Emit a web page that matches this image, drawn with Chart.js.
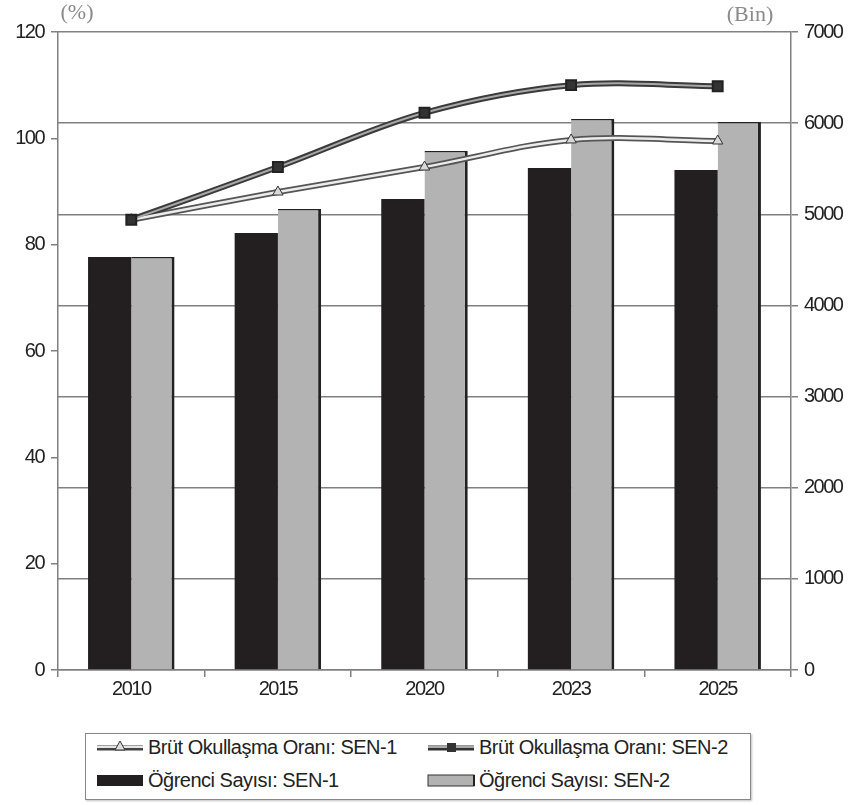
<!DOCTYPE html>
<html>
<head>
<meta charset="utf-8">
<script src="https://cdn.jsdelivr.net/npm/chart.js@4.4.1/dist/chart.umd.min.js"></script>
<style>
    body { margin: 0; background: #fff; font-family: 'Liberation Sans', Arial, sans-serif; }
    .wrap { position: relative; width: 852px; height: 805px; }
    #chart { position: absolute; left: 0; top: 0; }
    .legend {
        position: absolute; left: 85px; top: 733px; width: 666px; height: 67px;
        border: 1px solid #888; box-shadow: 1px 1px 2px rgba(0,0,0,0.25);
        box-sizing: border-box; font-size: 20px; color: #222; letter-spacing: -0.5px;
    }
    .item { position: absolute; display: flex; align-items: center; height: 26px; }
    .item svg { margin-right: 3px; }
</style>
</head>
<body>
<div class="wrap">
    <canvas id="chart" width="852" height="720"></canvas>
    <div class="legend">
        <div class="item" style="left:9px; top:0px;">
            <svg width="50" height="16"><line x1="2" y1="9" x2="48" y2="9" stroke="#444" stroke-width="5"/><line x1="2" y1="8" x2="48" y2="8" stroke="#e6e6e6" stroke-width="2"/><polygon points="25,2 30,11 20,11" fill="#ddd" stroke="#333" stroke-width="1"/></svg>
            Brüt Okullaşma Oranı: SEN-1
        </div>
        <div class="item" style="left:340px; top:0px;">
            <svg width="50" height="16"><line x1="2" y1="9" x2="48" y2="9" stroke="#333" stroke-width="5"/><line x1="2" y1="8" x2="48" y2="8" stroke="#aaa" stroke-width="2"/><rect x="21" y="4" width="9" height="9" fill="#333"/></svg>
            Brüt Okullaşma Oranı: SEN-2
        </div>
        <div class="item" style="left:9px; top:33px;">
            <svg width="50" height="16"><rect x="2" y="3" width="46" height="11" fill="#231f20"/></svg>
            Öğrenci Sayısı: SEN-1
        </div>
        <div class="item" style="left:340px; top:33px;">
            <svg width="50" height="16"><rect x="2" y="3" width="46" height="11" fill="#b2b2b2" stroke="#333" stroke-width="1"/><line x1="48" y1="3" x2="48" y2="14" stroke="#222" stroke-width="2"/></svg>
            Öğrenci Sayısı: SEN-2
        </div>
    </div>
</div>
<script>
// Data
const years = ['2010', '2015', '2020', '2023', '2025'];
const rateSen1 = [84.7, 89.9, 94.6, 99.7, 99.5];
const rateSen2 = [84.7, 94.6, 104.8, 110.0, 109.8];
const studentsSen1 = [4530, 4795, 5168, 5508, 5486];
const studentsSen2 = [4530, 5058, 5695, 6046, 6013];
const rateTicks = [0, 20, 40, 60, 80, 100, 120];
const studentTicks = [0, 1000, 2000, 3000, 4000, 5000, 6000, 7000];

const tickFont = { family: "'Liberation Sans', Arial, sans-serif", size: 20 };
const gridColor = '#808080';

// tighter tick text, the original uses a narrow face
const narrowText = {
    id: 'narrowText',
    beforeDraw(chart) {
        chart.ctx.letterSpacing = '-1.5px';
    }
};

// axis unit labels above the plot
const unitLabels = {
    id: 'unitLabels',
    afterDraw(chart) {
        const ctx = chart.ctx;
        const area = chart.chartArea;
        ctx.save();
        ctx.letterSpacing = '0px';
        ctx.fillStyle = '#8a8a8a';
        ctx.font = "22px 'Liberation Serif', 'Times New Roman', serif";
        ctx.textBaseline = 'middle';
        ctx.textAlign = 'center';
        ctx.fillText('(%)', area.left + 19, 13);
        ctx.fillText('(Bin)', area.right - 41, 15);
        ctx.restore();
    }
};

new Chart(document.getElementById('chart').getContext('2d'), {
    data: {
        labels: years,
        datasets: [
            {
                type: 'line',
                label: 'Brüt Okullaşma Oranı: SEN-2',
                data: rateSen2,
                yAxisID: 'y',
                borderColor: '#a8a8a8',
                borderWidth: 2,
                tension: 0.35,
                pointStyle: 'rect',
                pointRadius: 7,
                pointBackgroundColor: '#333',
                pointBorderColor: '#222',
                order: 0
            },
            {
                type: 'line',
                label: 'outline2',
                data: rateSen2,
                yAxisID: 'y',
                borderColor: '#3a3a3a',
                borderWidth: 6,
                tension: 0.35,
                pointRadius: 0,
                order: 1
            },
            {
                type: 'line',
                label: 'Brüt Okullaşma Oranı: SEN-1',
                data: rateSen1,
                yAxisID: 'y',
                borderColor: '#ececec',
                borderWidth: 2.5,
                tension: 0.35,
                pointStyle: 'triangle',
                pointRadius: 6,
                pointBackgroundColor: '#d8d8d8',
                pointBorderColor: '#333',
                pointBorderWidth: 1,
                order: 0
            },
            {
                type: 'line',
                label: 'outline1',
                data: rateSen1,
                yAxisID: 'y',
                borderColor: '#555',
                borderWidth: 6,
                tension: 0.35,
                pointRadius: 0,
                order: 1
            },
            {
                type: 'bar',
                label: 'Öğrenci Sayısı: SEN-1',
                data: studentsSen1,
                yAxisID: 'y1',
                backgroundColor: '#231f20',
                borderWidth: 0,
                categoryPercentage: 0.59,
                barPercentage: 1.0,
                order: 2
            },
            {
                type: 'bar',
                label: 'Öğrenci Sayısı: SEN-2',
                data: studentsSen2,
                yAxisID: 'y1',
                backgroundColor: '#b3b3b3',
                borderColor: '#222',
                borderWidth: { top: 1.5, right: 3, left: 0, bottom: 0 },
                borderSkipped: 'bottom',
                categoryPercentage: 0.59,
                barPercentage: 1.0,
                order: 2
            }
        ]
    },
    options: {
        responsive: false,
        animation: false,
        layout: { padding: { top: 32, left: 0, right: 0, bottom: 0 } },
        plugins: {
            legend: { display: false },
            tooltip: { enabled: false }
        },
        scales: {
            x: {
                afterFit(scale) { scale.height = 50; },
                grid: {
                    display: true,
                    offset: true,
                    drawOnChartArea: false,
                    drawTicks: true,
                    tickLength: 7,
                    color: gridColor,
                    lineWidth: 1.5
                },
                border: { display: true, color: gridColor, width: 1.5 },
                ticks: { color: '#222', font: tickFont, padding: 0 }
            },
            y: {
                position: 'left',
                min: 0,
                max: 120,
                afterFit(scale) { scale.width = 58; },
                afterBuildTicks(scale) { scale.ticks = rateTicks.map(v => ({ value: v })); },
                grid: {
                    drawOnChartArea: false,
                    drawTicks: true,
                    tickLength: 7,
                    color: gridColor,
                    lineWidth: 1.5
                },
                border: { display: true, color: gridColor, width: 1.5 },
                ticks: { color: '#222', font: tickFont, padding: 7 }
            },
            y1: {
                position: 'right',
                min: 0,
                max: 7000,
                afterFit(scale) { scale.width = 61; },
                afterBuildTicks(scale) { scale.ticks = studentTicks.map(v => ({ value: v })); },
                grid: {
                    drawOnChartArea: true,
                    drawTicks: true,
                    tickLength: 7,
                    color: gridColor,
                    lineWidth: 1.5
                },
                border: { display: true, color: gridColor, width: 1.5 },
                ticks: {
                    color: '#222',
                    font: tickFont,
                    padding: 6,
                    callback: function(value) { return String(value); }
                }
            }
        }
    },
    plugins: [narrowText, unitLabels]
});
</script>
</body>
</html>
